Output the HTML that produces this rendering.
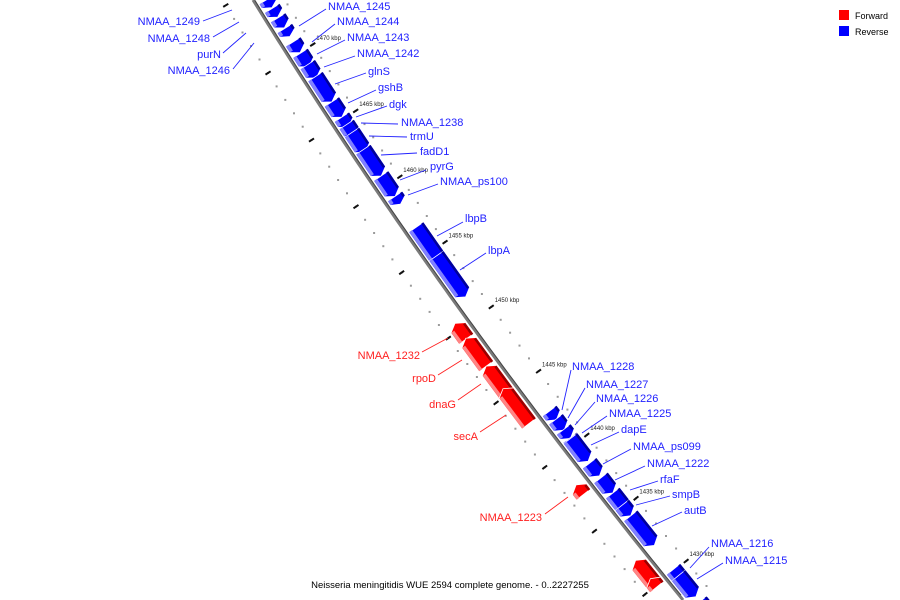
<!DOCTYPE html>
<html><head><meta charset="utf-8"><style>
html,body{margin:0;padding:0;background:#fff;overflow:hidden;width:900px;height:600px;}
svg{display:block;font-family:"Liberation Sans","DejaVu Sans",sans-serif;overflow:hidden;}
</style></head><body>
<svg id="map" width="900" height="600" viewBox="0 0 900 600" xmlns="http://www.w3.org/2000/svg">
<rect x="0" y="0" width="900" height="600" fill="#fff"/>
<g id="ticks"></g>
<path id="backbone" fill="none" stroke="#7a7a7a" stroke-width="3"/>
<path id="backbone2" fill="none" stroke="#444" stroke-width="1"/>
<g id="genes"></g>
<g id="labels"></g>
<g>
<rect x="839" y="10" width="10" height="10" fill="#ff0000"/>
<text x="855" y="19" font-size="9" fill="#000">Forward</text>
<rect x="839" y="26" width="10" height="10" fill="#0000ff"/>
<text x="855" y="35" font-size="9" fill="#000">Reverse</text>
</g>
<text x="450" y="588" font-size="9.5" text-anchor="middle" fill="#000">Neisseria meningitidis WUE 2594 complete genome. - 0..2227255</text>
</svg>
<script>
// gene data (kbp)
const geneNames = ["g1","g2","g3","g4","g5","g6","g7","glnS","gshB","dgk","NMAA_1238","trmU","fadD1","pyrG","NMAA_ps100","lbpB","lbpA",
 "NMAA_1232","rpoD","dnaG","secA","NMAA_1223","g_r6","g_r7",
 "NMAA_1228","NMAA_1227","NMAA_1226","NMAA_1225","dapE","NMAA_ps099","NMAA_1222","rfaF","smpB","autB","NMAA_1216","NMAA_1215","g_b_last"];
const geneStart = [1473.35,1472.65,1471.85,1471.2,1470.0,1468.95,1468.1,1466.3,1465.15,1464.4,1463.7,1462.5,1460.7,1459.15,1458.55,1454.2,1451.45,
 1449.3,1447.2,1445.1,1442.75,1437.2,1430.2,1429.9,
 1441.9,1441.1,1440.45,1440.4,1438.65,1437.5,1436.15,1434.8,1434.35,1432.0,1429.2,1427.9,1426.5];
const geneEnd = [1473.95,1473.3,1472.6,1471.8,1470.8,1469.95,1469.1,1468.2,1466.3,1465.15,1464.6,1464.0,1462.7,1460.7,1459.15,1456.8,1454.6,
 1450.5,1449.35,1447.2,1445.45,1437.95,1432.0,1430.55,
 1442.6,1441.95,1441.15,1440.5,1440.45,1438.5,1437.35,1436.15,1435.2,1434.35,1430.1,1429.6,1427.5];
const geneStrand = ["-","-","-","-","-","-","-","-","-","-","-","-","-","-","-","-","-",
 "+","+","+","+","+","+","+",
 "-","-","-","-","-","-","-","-","-","-","-","-","-"];
const tickKbp = [1470,1465,1460,1455,1450,1445,1440,1435,1430];
const tickLabels = ["1470 kbp","1465 kbp","1460 kbp","1455 kbp","1450 kbp","1445 kbp","1440 kbp","1435 kbp","1430 kbp"];

// labels (annotation layout)
const labelText = ["NMAA_1245","NMAA_1244","NMAA_1243","NMAA_1242","glnS","gshB","dgk","NMAA_1238","trmU","fadD1","pyrG","NMAA_ps100","lbpB","lbpA",
 "NMAA_1228","NMAA_1227","NMAA_1226","NMAA_1225","dapE","NMAA_ps099","NMAA_1222","rfaF","smpB","autB","NMAA_1216","NMAA_1215",
 "NMAA_1249","NMAA_1248","purN","NMAA_1246",
 "NMAA_1232","rpoD","dnaG","secA","NMAA_1223"];
const labelX = [328,337,347,357,368,378,389,401,410,420,430,440,465,488,572,586,596,609,621,633,647,660,672,684,711,725,
 200,210,221,230, 420,436,456,478,542];
const labelY = [6,21,37,53,71,87,104,122,136,151,166,181,218,250,366,384,398,413,429,446,463,479,494,510,543,560,
 21,38,54,70, 355,378,404,436,517];
const leadX1 = [326,335,345,355,366,376,387,398,407,417,426,438,463,486,571,585,595,607,619,631,645,658,670,682,709,723,
 203,213,223,233, 422,438,458,480,545];
const leadY1 = [9,24,40,56,73,90,106,124,137,153,170,184,222,253,370,388,402,416,432,449,466,481,496,512,547,563,
 21,37,53,69, 352,375,400,432,514];
const leadX2 = [299,312,317,324,335,348,356,361,369,381,400,408,437,460,562,568,575,582,591,603,615,630,636,652,690,697,
 232,239,246,254, 448,462,481,506,568];
const leadY2 = [26,42,54,67,84,103,117,123,136,155,180,195,236,270,410,418,425,433,445,464,480,490,505,526,568,579,
 10,22,33,43, 338,360,384,415,497];
const labelColor = Array(26).fill("#2222ff").concat(Array(4).fill("#2222ff"),Array(5).fill("#ff2020"));

const NS="http://www.w3.org/2000/svg";
function curveX(y){return 253+0.6167*y+0.0001667*y*y;}
function yOf(k){const d=1470-k;return 59+13.4*d-0.0106*d*d;}
function pt(k,r){const y=yOf(k),x=curveX(y),s=0.6167+2*0.0001667*y,n=Math.sqrt(1+s*s);return [x+r/n,y-r*s/n];}
function P(a){return a.map(p=>p[0].toFixed(1)+","+p[1].toFixed(1)).join(" ");}
function mk(tag,parent,attrs){const e=document.createElementNS(NS,tag);for(const k in attrs)e.setAttribute(k,attrs[k]);parent.appendChild(e);return e;}

// backbone
let d="";for(let y=0;y<=600;y+=5){d+=(y===0?"M":"L")+curveX(y).toFixed(1)+","+y;}
document.getElementById("backbone").setAttribute("d",d);
let d2="";for(let y=1;y<=600;y+=5){d2+=(y===1?"M":"L")+(curveX(y)+1.2).toFixed(1)+","+(y-0.8);}
document.getElementById("backbone2").setAttribute("d",d2);

// ticks and dots
const tg=document.getElementById("ticks");
for(let k=1474;k>=1426;k--){
  for(const r of [-26,27]){
    const p=pt(k,r);
    if(p[1]<0||p[1]>598) continue;
    const c=mk("rect",tg,{x:(p[0]-1).toFixed(1),y:(p[1]-1).toFixed(1),width:2,height:2,fill:"#9a9a9a"});
    
    
  }
}
[1475].concat(tickKbp).forEach(k=>{
  for(const rr of [[-23,-29],[24,30]]){
    const a=pt(k,rr[0]),b=pt(k,rr[1]);
    const l=mk("line",tg,{x1:a[0].toFixed(1),y1:a[1].toFixed(1),x2:b[0].toFixed(1),y2:b[1].toFixed(1),stroke:"#111","stroke-width":2});
    
    
  }
});
tickKbp.forEach((k,i)=>{
  const p=pt(k,30);
  const t=mk("text",tg,{x:(p[0]+1).toFixed(1),y:(p[1]-3).toFixed(1),"font-size":6,fill:"#222"});
  t.textContent=tickLabels[i];
  
  
});

// genes
const gg=document.getElementById("genes");
geneNames.forEach((name,i)=>{
  const fwd=geneStrand[i]==="+";
  const lo=geneStart[i],hi=geneEnd[i];
  const r1=fwd?-3:3,r2=fwd?-21:21,rm=(r1+r2)/2;
  const head=Math.min(0.35,(hi-lo)*0.5);
  let poly;
  if(fwd){
    poly=[pt(lo,r1),pt(lo,r2),pt(hi-head,r2),pt(hi,rm),pt(hi-head,r1)];
  } else {
    poly=[pt(hi,r1),pt(hi,r2),pt(lo+head,r2),pt(lo,rm),pt(lo+head,r1)];
  }
  const g=mk("g",gg,{});
  
  
  const main=mk("polygon",g,{points:P(poly),fill:fwd?"#ff0000":"#0000ff",stroke:"#fff","stroke-width":0.8});
  
  
  const lr=fwd?[r2+0.5,r2+4]:[r1+0.5,r1+4];
  const light=fwd?[pt(lo,lr[0]),pt(lo,lr[1]),pt(hi-head,lr[1]),pt(hi-head,lr[0])]
                 :[pt(hi,lr[0]),pt(hi,lr[1]),pt(lo+head,lr[1]),pt(lo+head,lr[0])];
  const ls=mk("polygon",g,{points:P(light),fill:fwd?"#ff8585":"#8080ff"});
  
  
  const dr=fwd?[r1-3,r1-0.5]:[r2-3,r2-0.5];
  const dark=fwd?[pt(lo,dr[0]),pt(lo,dr[1]),pt(hi-head,dr[1]),pt(hi-head,dr[0])]
                :[pt(hi,dr[0]),pt(hi,dr[1]),pt(lo+head,dr[1]),pt(lo+head,dr[0])];
  const ds=mk("polygon",g,{points:P(dark),fill:fwd?"#9a0000":"#000099"});
  
  
});

// labels
const lg=document.getElementById("labels");
labelText.forEach((t,i)=>{
  const ln=mk("line",lg,{x1:leadX1[i],y1:leadY1[i],x2:leadX2[i],y2:leadY2[i],stroke:labelColor[i],"stroke-width":0.9});
  
  
  const left=i>=26;
  const tx=mk("text",lg,{x:labelX[i],y:labelY[i]+4,"font-size":11,fill:labelColor[i],"text-anchor":left?"end":"start"});
  tx.textContent=t;
  
  
});
</script>
</body></html>
